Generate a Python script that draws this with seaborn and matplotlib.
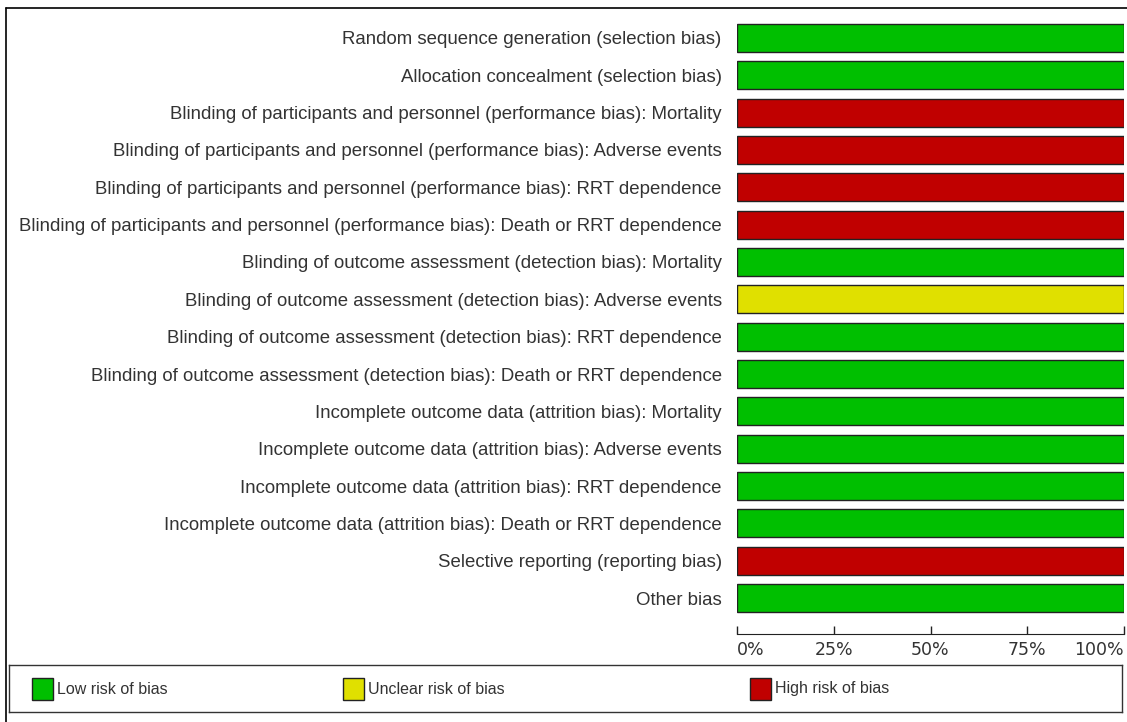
import numpy as np
import pandas as pd
import matplotlib
matplotlib.use("Agg")
import matplotlib.pyplot as plt
from matplotlib.patches import Rectangle
import seaborn as sns

# risk of bias domains (top to bottom) and the judgement for each
domains = [
    "Random sequence generation (selection bias)",
    "Allocation concealment (selection bias)",
    "Blinding of participants and personnel (performance bias): Mortality",
    "Blinding of participants and personnel (performance bias): Adverse events",
    "Blinding of participants and personnel (performance bias): RRT dependence",
    "Blinding of participants and personnel (performance bias): Death or RRT dependence",
    "Blinding of outcome assessment (detection bias): Mortality",
    "Blinding of outcome assessment (detection bias): Adverse events",
    "Blinding of outcome assessment (detection bias): RRT dependence",
    "Blinding of outcome assessment (detection bias): Death or RRT dependence",
    "Incomplete outcome data (attrition bias): Mortality",
    "Incomplete outcome data (attrition bias): Adverse events",
    "Incomplete outcome data (attrition bias): RRT dependence",
    "Incomplete outcome data (attrition bias): Death or RRT dependence",
    "Selective reporting (reporting bias)",
    "Other bias",
]
judgement = ["Low", "Low", "High", "High", "High", "High", "Low", "Unclear",
             "Low", "Low", "Low", "Low", "Low", "Low", "High", "Low"]
percent = [100] * 16

levels = ["Low", "Unclear", "High"]
level_names = ["Low risk of bias", "Unclear risk of bias", "High risk of bias"]
colors = {"Low": "#00bf00", "Unclear": "#e0e000", "High": "#c00000"}
xticks = [0, 25, 50, 75, 100]
xticklabels = ["0%", "25%", "50%", "75%", "100%"]

df = pd.DataFrame({"domain": domains, "judgement": judgement, "percent": percent})

sns.set_style("white")
plt.rcParams['font.family'] = ['Liberation Sans', 'DejaVu Sans']
txt = "#333333"

fig = plt.figure(figsize=(11.27, 7.22), dpi=100)
ax = fig.add_axes([737/1127, 1 - 616.7/722, (1124-737)/1127, (616.7-19.3)/722])

sns.barplot(data=df, x="percent", y="domain", hue="judgement", hue_order=levels,
            palette=colors, saturation=1, dodge=False, width=0.75,
            edgecolor="#222222", linewidth=1.0, legend=False, ax=ax, orient="h")

ax.set_xlim(0, 100)
ax.set_ylim(15.5, -0.5)
ax.set_xlabel("")
ax.set_ylabel("")
# spine position first: it resets the ticks
for s in ["top", "right", "left"]:
    ax.spines[s].set_visible(False)
ax.spines["bottom"].set_position(("outward", 12.5))
ax.spines["bottom"].set_color("#222222")

ax.tick_params(axis="y", length=0, pad=11, labelsize=13.4, labelcolor=txt)
ax.tick_params(axis="x", bottom=True, direction="in", length=6, width=1,
               color="#222222", pad=5, labelsize=12.5, labelcolor=txt)
ax.set_xticks(xticks, xticklabels)
mticks = ax.xaxis.get_major_ticks()
for i, t in enumerate(mticks):
    t.label1.set_fontfamily("DejaVu Sans")
    if i == 0:
        t.label1.set_horizontalalignment("left")
    elif i == len(mticks) - 1:
        t.label1.set_horizontalalignment("right")

# outer frame (top and left edges)
fig.add_artist(plt.Line2D([6/1127, 6/1127], [0, 1 - 8/722], color="black", lw=1.2))
fig.add_artist(plt.Line2D([6/1127, 1], [1 - 8/722, 1 - 8/722], color="black", lw=1.2))

# legend box
lax = fig.add_axes([9/1127, 1 - 712/722, (1122-9)/1127, 47/722])
lax.set_xlim(9, 1122)
lax.set_ylim(712, 665)
lax.set_xticks([])
lax.set_yticks([])
for s in lax.spines.values():
    s.set_color("#333333")
    s.set_linewidth(1)
for lev, name, x0 in zip(levels, level_names, [32, 343, 750]):
    lax.add_patch(Rectangle((x0, 678), 21, 22, facecolor=colors[lev],
                            edgecolor="#222222", lw=1))
    lax.text(x0 + 25, 689, name, va="center", ha="left", fontsize=11.5, color=txt)

fig.savefig("out.png", dpi=100)
